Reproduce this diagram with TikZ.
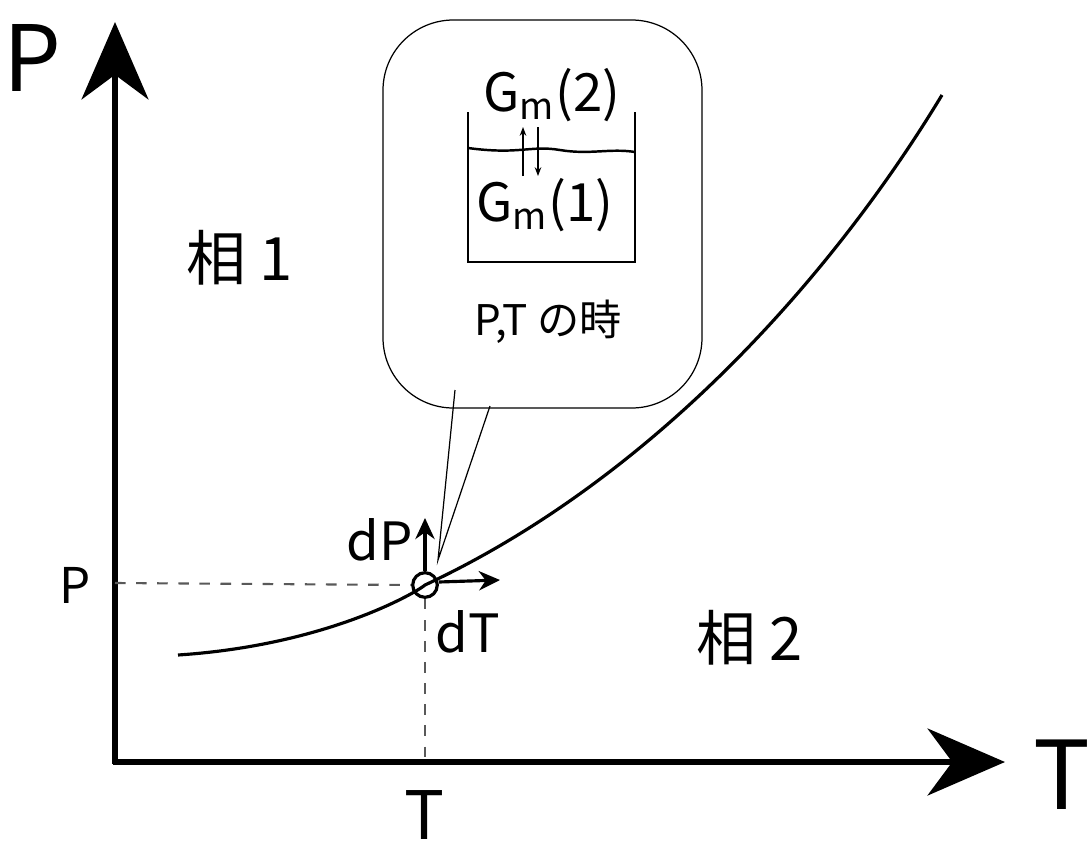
\documentclass[tikz,border=0pt]{standalone}
\usepackage{fontspec}
\setmainfont{Noto Sans CJK JP}
\usetikzlibrary{arrows.meta}
\begin{document}
\begin{tikzpicture}[x=0.01cm,y=-0.01cm]

    \tikzset{axis/.style={line width=1.8pt, -{Stealth[length=22pt,width=19pt,inset=7pt]}},
             guide/.style={dashed, line width=0.6pt, gray!70!black},
             small/.style={-{Stealth[length=2.5pt]}, line width=0.35pt},
             vec/.style={line width=0.9pt, -{Stealth[length=6pt,width=5.5pt]}}};

    \useasboundingbox (0,0) rectangle (1090,863);

    \coordinate (o) at (115,762);
    \coordinate (ytip) at (115,22);
    \coordinate (xtip) at (1005,762);
    \draw[axis] (115,764) -- (ytip);
    \draw[axis] (113,762) -- (xtip);

    \node (Plab) at (32,58) {\fontsize{26}{26}\selectfont P};
    \node (Tlab) at (1062,775) {\fontsize{27}{27}\selectfont T};

    % coexistence curve
    \draw[line width=0.9pt] (178,655) .. controls (330,645) and (420,590) .. (425,585)
        .. controls (650,480) and (830,280) .. (942,95);

    \node[circle, draw, line width=0.9pt, minimum size=7pt, inner sep=0pt] (pt) at (425,585) {};
    \coordinate (dPtip) at (425,518);
    \coordinate (dTtip) at (500,580);
    \draw[vec] (pt.north) -- (dPtip);
    \draw[vec] (pt.east) ++(0,-3) -- (dTtip);
    \node (dP) at (380,540) {\fontsize{15}{15}\selectfont dP};
    \node (dT) at (468,632) {\fontsize{15}{15}\selectfont dT};

    \draw[guide] (115,583) -- (pt.west);
    \draw[guide] (pt.south) -- (425,760);
    \node (Pv) at (75,585) {\fontsize{14}{14}\selectfont P};
    \node (Tv) at (425,815) {\fontsize{19}{19}\selectfont T};

    \node (ph1) at (240,258) {\fontsize{17}{17}\selectfont 相 1};
    \node (ph2) at (750,638) {\fontsize{17}{17}\selectfont 相 2};

    % speech bubble
    \draw[line width=0.35pt, rounded corners=20pt] (383,20) rectangle (702,408);
    \coordinate (tail) at (438,560);
    \fill[white] (455,409) -- (tail) -- (490,409) -- cycle;
    \draw[line width=0.35pt] (455,390) -- (tail) -- (490,406);

    % beaker
    \draw[line width=0.7pt] (468,112) -- (468,262) -- (635,262) -- (635,112);
    \draw[line width=0.7pt] (468,148) .. controls (520,155) and (530,145) .. (560,150)
        .. controls (590,155) and (610,148) .. (635,152);
    \node (G2) at (552,95) {\fontsize{15}{15}\selectfont G\textsubscript{m}(2)};
    \node (G1) at (545,205) {\fontsize{15}{15}\selectfont G\textsubscript{m}(1)};
    \coordinate (ua) at (523,127);
    \coordinate (ub) at (523,176);
    \coordinate (da) at (538,127);
    \coordinate (db) at (538,176);
    \draw[small] (ub) -- (ua);
    \draw[small] (da) -- (db);
    \node (when) at (548,322) {\fontsize{12}{12}\selectfont P,T の時};

\end{tikzpicture}
\end{document}
